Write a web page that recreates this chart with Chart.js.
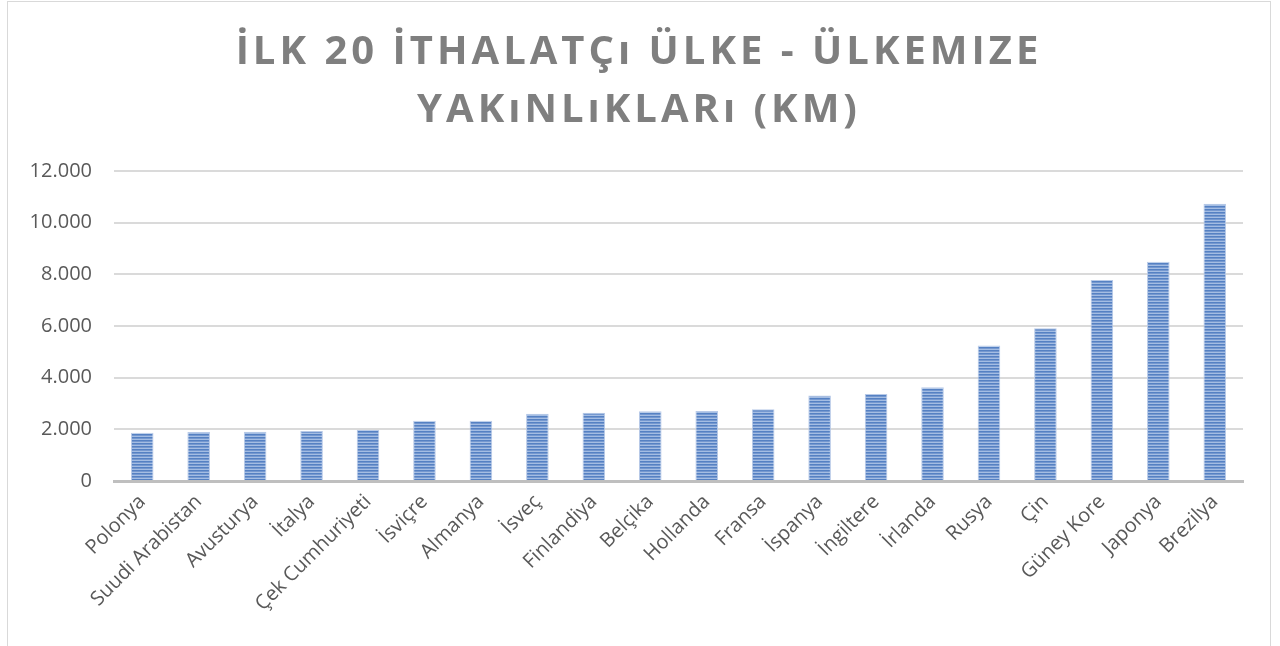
<!DOCTYPE html>
<html lang="tr">
<head>
<meta charset="utf-8">
<title>İlk 20 ithalatçı ülke - ülkemize yakınlıkları (km)</title>
<script src="https://cdn.jsdelivr.net/npm/chart.js@4.4.1/dist/chart.umd.min.js"></script>
<style>
  html, body { margin: 0; padding: 0; background: #ffffff; overflow: hidden; }
  #frame {
    position: absolute; left: 7px; top: 1px;
    width: 1262px; height: 700px;
    border: 1px solid #d9d9d9;
    background: #ffffff;
  }
  #chart { display: block; }
</style>
</head>
<body>
<div id="frame"><canvas id="chart" width="1262" height="660"></canvas></div>
<script>
// Countries, ordered by distance
const countries = [
  'Polonya', 'Suudi Arabistan', 'Avusturya', 'İtalya', 'Çek Cumhuriyeti',
  'İsviçre', 'Almanya', 'İsveç', 'Finlandiya', 'Belçika',
  'Hollanda', 'Fransa', 'İspanya', 'İngiltere', 'İrlanda',
  'Rusya', 'Çin', 'Güney Kore', 'Japonya', 'Brezilya'
];

// Distance to Türkiye (km)
const distancesKm = [
  1870, 1900, 1910, 1940, 1970,
  2330, 2330, 2600, 2640, 2700,
  2710, 2780, 3310, 3370, 3630,
  5250, 5910, 7780, 8490, 10730
];

// Value axis
const yMin = 0;
const yMax = 12000;
const yStep = 2000;

const titleLines = ['İLK 20 İTHALATÇı ÜLKE - ÜLKEMIZE', 'YAKıNLıKLARı (KM)'];

// Horizontal stripe fill for the bars
function stripeFill(ctx) {
  const tile = document.createElement('canvas');
  tile.width = 4; tile.height = 3;
  const t = tile.getContext('2d');
  t.fillStyle = '#5581c3'; t.fillRect(0, 0, 4, 1);
  t.fillStyle = '#7598cf'; t.fillRect(0, 1, 4, 1);
  t.fillStyle = '#a4bde3'; t.fillRect(0, 2, 4, 1);
  return ctx.createPattern(tile, 'repeat');
}

const fmt = v => String(v).replace(/\B(?=(\d{3})+(?!\d))/g, '.');

// Wide tracking for the title, centred on the whole canvas
const titleTracking = {
  id: 'titleTracking',
  beforeDraw(chart) {
    const box = chart.titleBlock;
    if (!box || box._tracked) return;
    const draw = box.draw.bind(box);
    box.draw = function (area) {
      const c = chart.ctx;
      c.save();
      c.translate(chart.width / 2 - (box.left + box.right) / 2, 0);
      c.letterSpacing = '4px';
      draw(area);
      c.restore();
    };
    box._tracked = true;
  }
};

const canvas = document.getElementById('chart');
const ctx = canvas.getContext('2d');
const CANVAS_H = 660;
const AREA_LEFT = 106, AREA_BOTTOM = 479;

new Chart(ctx, {
  type: 'bar',
  data: {
    labels: countries,
    datasets: [{
      data: distancesKm,
      backgroundColor: stripeFill(ctx),
      borderColor: '#b8cae8',
      borderWidth: 1,
      borderSkipped: 'bottom',
      categoryPercentage: 1.0,
      barPercentage: 0.4
    }]
  },
  plugins: [titleTracking],
  options: {
    responsive: false,
    animation: false,
    layout: { padding: { left: 0, right: 27, top: 0, bottom: 0 } },
    plugins: {
      legend: { display: false },
      tooltip: { enabled: false },
      title: {
        display: true,
        text: titleLines,
        color: '#7f7f7f',
        font: { family: 'Open Sans', weight: 'bold', size: 40, lineHeight: '58.5px' },
        padding: { top: 21, bottom: 31 }
      }
    },
    scales: {
      x: {
        grid: { display: false, drawTicks: false },
        border: { display: true, color: '#bfbfbf', width: 3 },
        ticks: {
          autoSkip: false,
          maxRotation: 45,
          minRotation: 45,
          padding: 9,
          color: '#595959',
          font: { family: 'Open Sans', size: 20 }
        },
        afterFit(scale) { scale.height = CANVAS_H - AREA_BOTTOM; }
      },
      y: {
        min: yMin,
        max: yMax,
        grid: { color: '#dadada', lineWidth: 2, drawTicks: false },
        border: { display: false },
        ticks: {
          stepSize: yStep,
          padding: 22,
          color: '#595959',
          font: { family: 'Open Sans', size: 20 },
          callback: v => fmt(v)
        },
        afterFit(scale) { scale.width = AREA_LEFT; }
      }
    }
  }
});
</script>
</body>
</html>
